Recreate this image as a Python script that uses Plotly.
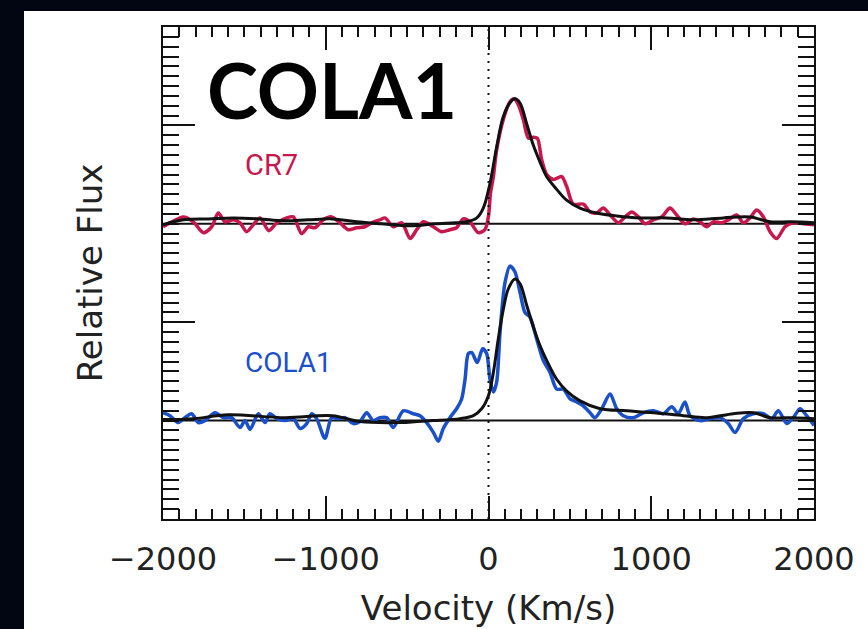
import plotly.graph_objects as go

# Velocity grids (km/s) and relative flux (arbitrary units, continuum = 0)
cr7_vel = [-2000, -1957, -1875, -1814, -1752, -1701, -1660, -1619, -1568, -1527,
           -1486, -1455, -1404, -1350, -1301, -1240, -1199, -1148, -1107, -1066,
           -1015, -964, -912, -861, -810, -759, -718, -667, -636, -585,
           -533, -482, -441, -400, -339, -290, -237, -196, -155, -114,
           -63, -22, 0, 12, 30, 50, 91, 132, 157, 183,
           214, 245, 275, 300, 327, 358, 398, 450, 480, 521,
           583, 624, 665, 705, 747, 798, 839, 880, 921, 962,
           1013, 1064, 1115, 1156, 1207, 1258, 1300, 1341, 1381, 1433,
           1473, 1525, 1566, 1607, 1648, 1689, 1730, 1771, 1822, 1873,
           1934, 2000]
cr7_flux = [-3, 1, 7, 2, -9, -3, 11, 2, 4, 1,
            -8, -3, 6, -7, 1, 6, 7, -10, -3, -4,
            4, 7, 1, -6, -4, -3, 1, 4, 6, -3,
            1, -15, -6, 2, -3, -8, -6, -4, 5, 2,
            -9, -6, 8, 31, 48, 75, 106, 124, 127, 121,
            106, 87, 88, 87, 65, 50, 45, 48, 38, 20,
            20, 12, 11, 16, 9, 1, 7, 12, 7, 0,
            4, 7, 16, 9, 0, 5, 2, -3, 2, 1,
            4, 9, 1, 6, 14, 7, -8, -15, -3, 1,
            0, -1]

cr7_model_vel = [-2000, -1875, -1720, -1570, -1410, -1260, -1110, -960, -810, -660,
                 -480, -330, -200, -134, -72, -32, 9, 50, 91, 132,
                 162, 193, 234, 275, 316, 357, 419, 480, 562, 665,
                 788, 931, 1095, 1258, 1442, 1607, 1730, 1853, 2000]
cr7_model_flux = [-1, 4, 5, 6, 5, 3, 4, 5, 2, 0,
                  -2, 0, 1, 2, 6, 16, 41, 78, 109, 123,
                  127, 123, 102, 80, 63, 48, 35, 24, 16, 11,
                  8, 6, 6, 4, 6, 7, 2, 2, 1]

cola1_vel = [-2000, -1957, -1906, -1865, -1824, -1783, -1742, -1680, -1629, -1578,
             -1527, -1496, -1465, -1414, -1373, -1343, -1301, -1250, -1199, -1158,
             -1117, -1086, -1056, -1005, -964, -923, -882, -831, -790, -748,
             -708, -667, -626, -585, -524, -462, -421, -380, -339, -308,
             -278, -237, -196, -165, -144, -124, -103, -69, -36, -11,
             9, 30, 50, 71, 101, 132, 163, 194, 224, 255,
             296, 337, 378, 419, 460, 501, 542, 582, 624, 654,
             696, 747, 788, 828, 890, 951, 1013, 1074, 1126, 1166,
             1207, 1238, 1300, 1361, 1422, 1473, 1515, 1566, 1627, 1689,
             1740, 1781, 1832, 1873, 1914, 1955, 2000]
cola1_flux = [8, 5, -2, 3, 7, -2, 0, 8, 3, 3,
              -7, 0, -9, 7, -2, 7, 2, 0, 2, -8,
              -3, 7, 2, -18, 3, 2, 3, -3, -1, 8,
              0, 3, 3, -7, 10, 7, 5, -2, -12, -21,
              -8, 3, 12, 22, 42, 68, 69, 59, 73, 68,
              42, 29, 39, 90, 140, 157, 151, 130, 110, 105,
              83, 61, 49, 32, 32, 22, 19, 15, 8, 3,
              12, 27, 12, 5, 3, 8, 10, 7, 14, 7,
              19, 5, 0, 2, 3, -3, -12, 2, 7, 7,
              2, 10, -3, 3, 12, 5, -5]

cola1_model_vel = [-2000, -1810, -1600, -1250, -960, -790, -540, -440, -338, -175,
                   -93, -42, -1, 30, 60, 91, 122, 163, 194, 235,
                   276, 317, 358, 419, 481, 563, 686, 850, 1013, 1197,
                   1340, 1504, 1627, 1730, 1873, 2000]
cola1_model_flux = [1, 2, 6, 3, 5, -1, -2, -1, 0, 2,
                    5, 12, 25, 49, 83, 113, 134, 144, 139, 117,
                    95, 76, 61, 42, 30, 20, 12, 10, 8, 5,
                    3, 7, 8, 3, 3, 2]

# Vertical offsets used to stack the two spectra
cr7_offset = 300
cola1_offset = 100

x_ticks = [-2000, -1000, 0, 1000, 2000]

RED = "#c8174d"
BLUE = "#1b50cc"
INK = "#111111"
TEXT = "#222222"

fig = go.Figure()

# continuum reference lines
for off in (cr7_offset, cola1_offset):
    fig.add_trace(go.Scatter(x=[-2000, 2000], y=[off, off], mode="lines",
                             line=dict(color=INK, width=2), hoverinfo="skip"))

fig.add_trace(go.Scatter(x=cr7_vel, y=[f + cr7_offset for f in cr7_flux], mode="lines",
                         line=dict(color=RED, width=3.5, shape="spline", smoothing=0.8),
                         name="CR7"))
fig.add_trace(go.Scatter(x=cola1_vel, y=[f + cola1_offset for f in cola1_flux], mode="lines",
                         line=dict(color=BLUE, width=3.5, shape="spline", smoothing=0.8),
                         name="COLA1"))
fig.add_trace(go.Scatter(x=cr7_model_vel, y=[f + cr7_offset for f in cr7_model_flux],
                         mode="lines", line=dict(color=INK, width=3, shape="spline", smoothing=1.0),
                         name="CR7 model"))
fig.add_trace(go.Scatter(x=cola1_model_vel, y=[f + cola1_offset for f in cola1_model_flux],
                         mode="lines", line=dict(color=INK, width=3, shape="spline", smoothing=1.0),
                         name="COLA1 model"))

# systemic velocity
fig.add_shape(type="line", x0=0, x1=0, xref="x", y0=0, y1=1, yref="paper",
              line=dict(color=INK, width=2, dash="2px,6px"))

# white panel over the dark backdrop
fig.add_shape(type="rect", xref="paper", yref="paper", layer="below",
              x0=(24 - 163) / 651, x1=1.3,
              y0=-0.4, y1=(519 - 11) / 492,
              fillcolor="white", line=dict(width=0))

fig.add_annotation(text="<b>COLA1</b>", x=(205 - 163) / 651, y=(519 - 89) / 492,
                   xref="paper", yref="paper", xanchor="left", yanchor="middle",
                   showarrow=False, font=dict(family="Lato", size=77, color="black"))
fig.add_annotation(text="CR7", x=(243 - 163) / 651, y=(519 - 165) / 492,
                   xref="paper", yref="paper", xanchor="left", yanchor="middle",
                   showarrow=False, font=dict(family="Roboto", size=29, color=RED))
fig.add_annotation(text="COLA1", x=(243 - 163) / 651, y=(519 - 362) / 492,
                   xref="paper", yref="paper", xanchor="left", yanchor="middle",
                   showarrow=False, font=dict(family="Roboto", size=28, color=BLUE))

axis_font = dict(family="DejaVu Sans", size=32, color=TEXT)
title_font = dict(family="DejaVu Sans", size=34, color=TEXT)

fig.update_xaxes(range=[-2000, 2000], tickvals=x_ticks,
                 ticktext=[f"{v}".replace("-", "\u2212") for v in x_ticks],
                 ticks="inside", ticklen=23, tickwidth=2, tickcolor=INK,
                 minor=dict(ticks="inside", ticklen=10, tickwidth=2, tickcolor=INK, dtick=100, tick0=0),
                 showline=True, linecolor=INK, linewidth=2, mirror="ticks",
                 showgrid=False, zeroline=False, tickfont=axis_font, ticklabelstandoff=11,
                 title=dict(text="Velocity (Km/s)", font=title_font, standoff=19))
fig.update_yaxes(range=[0, 500], dtick=200, tick0=0, showticklabels=False,
                 ticks="inside", ticklen=32, tickwidth=2, tickcolor=INK,
                 minor=dict(ticks="inside", ticklen=16, tickwidth=2, tickcolor=INK, dtick=10, tick0=0),
                 showline=True, linecolor=INK, linewidth=2, mirror="ticks",
                 showgrid=False, zeroline=False,
                 title=dict(text="Relative Flux", font=title_font, standoff=48))

fig.update_layout(width=868, height=629, margin=dict(l=163, r=54, t=27, b=110, autoexpand=False),
                  paper_bgcolor="#020612", plot_bgcolor="white", showlegend=False)

fig.write_html("out.html")
